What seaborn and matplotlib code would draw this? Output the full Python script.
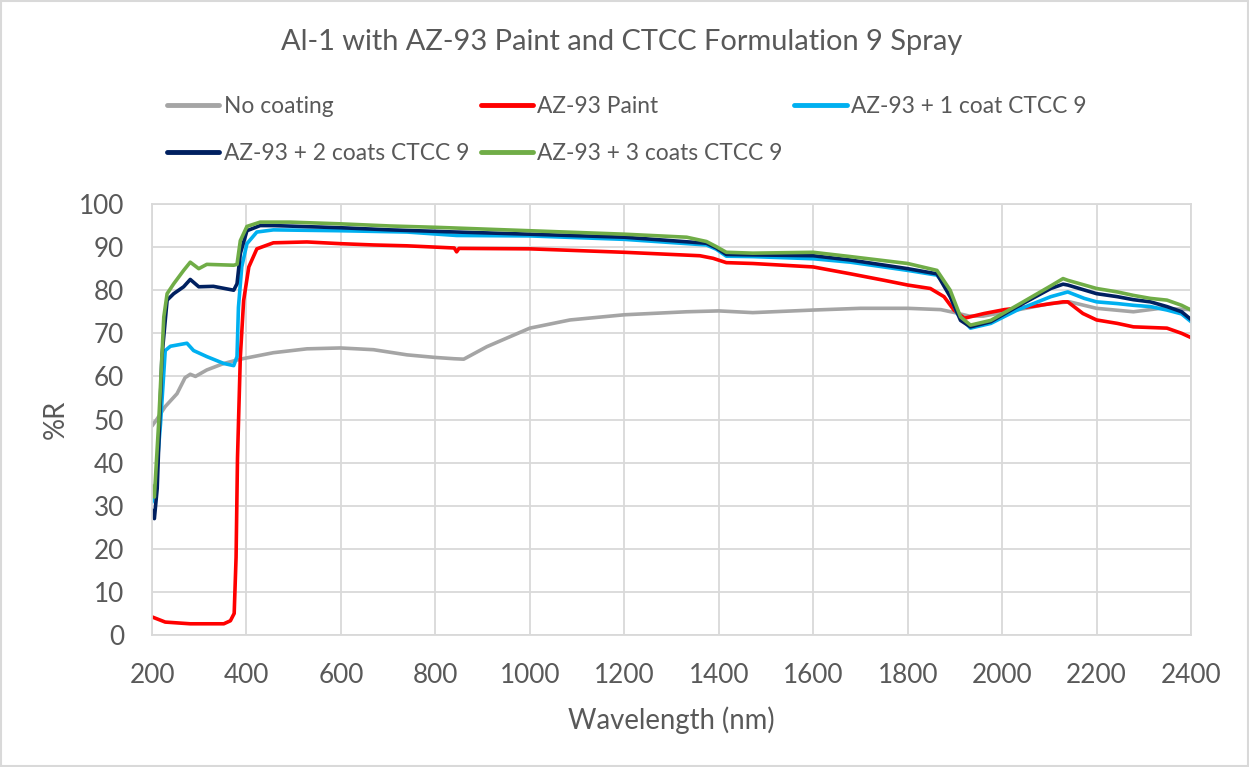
import matplotlib
matplotlib.use("Agg")
import matplotlib.pyplot as plt
from matplotlib.lines import Line2D
from matplotlib.patches import Rectangle
import seaborn as sns
import pandas as pd

sns.set_style("white")
plt.rcParams['font.family'] = ['Lato', 'DejaVu Sans']

TEXT = '#595959'
GRID = '#d9d9d9'

# --- data (wavelength nm, %R) ---
wl_none = [200, 210, 228, 253, 270, 281, 292, 316, 352, 387, 457, 528, 599, 669,
           740, 800, 840, 860, 909, 1000, 1085, 1200, 1332, 1400, 1472, 1600,
           1700, 1800, 1870, 1900, 1930, 1960, 2000, 2050, 2101, 2143, 2200,
           2278, 2335, 2400]
r_none = [48.5, 50, 53, 56, 59.7, 60.5, 60, 61.5, 63, 64, 65.5, 66.4, 66.6, 66.2,
          65, 64.4, 64.1, 64.0, 66.9, 71.2, 73.1, 74.3, 75, 75.2, 74.8, 75.4,
          75.8, 75.8, 75.5, 74.8, 74.0, 74.0, 74.8, 75.8, 76.9, 77.3, 75.8,
          75.0, 75.8, 75.5]

wl_paint = [200, 228, 281, 352, 366, 374, 378, 381, 387, 394, 405, 422, 457, 528,
            599, 669, 740, 800, 840, 845, 850, 1000, 1200, 1360, 1388, 1416, 1472,
            1600, 1679, 1750, 1800, 1848, 1877, 1898, 1920, 1962, 2005, 2068,
            2129, 2139, 2171, 2200, 2244, 2278, 2349, 2380, 2400]
r_paint = [4.2, 3.0, 2.6, 2.6, 3.3, 5, 18, 41, 64.5, 77.6, 85.4, 89.6, 91.0, 91.2,
           90.8, 90.5, 90.3, 90.0, 89.8, 88.9, 89.7, 89.6, 88.8, 88.0, 87.4, 86.4, 86.2,
           85.4, 83.8, 82.3, 81.2, 80.4, 78.5, 75.4, 73.5, 74.6, 75.5, 76.3,
           77.3, 77.3, 74.6, 73.1, 72.3, 71.5, 71.2, 70, 69]

wl_1coat = [200, 207, 218, 228, 239, 274, 288, 316, 352, 373, 380, 383, 390, 401,
            422, 457, 599, 740, 845, 1000, 1200, 1374, 1395, 1416, 1472, 1600,
            1679, 1800, 1862, 1883, 1905, 1933, 1976, 2032, 2103, 2139, 2174,
            2200, 2244, 2278, 2314, 2349, 2380, 2400]
r_1coat = [30.8, 34, 49, 66, 67, 67.7, 66, 64.6, 63, 62.5, 64.6, 76, 85.4, 90.8,
           93.5, 94, 93.8, 93.5, 92.7, 92.6, 91.8, 90.5, 89.5, 87.9, 87.8, 87.3,
           86.5, 84.6, 83.5, 80.8, 74.6, 71.2, 72.3, 75.4, 78.5, 79.6, 78.1,
           77.3, 76.9, 76.5, 76.2, 75.4, 74.5, 72.7]

wl_2coat = [200, 205, 211, 221, 232, 246, 267, 281, 299, 330, 373, 380, 387, 401,
            429, 457, 599, 705, 845, 1000, 1200, 1374, 1395, 1416, 1472, 1600,
            1679, 1800, 1862, 1890, 1912, 1933, 1976, 2032, 2103, 2129, 2139,
            2200, 2244, 2278, 2314, 2349, 2380, 2400]
r_2coat = [29, 27, 34, 64.6, 77.7, 79.2, 80.8, 82.5, 80.8, 80.9, 80, 81.5, 88.5, 93.8,
           95, 95, 94.5, 94.0, 93.5, 93.0, 92.3, 90.9, 89.8, 88.3, 88.2, 88,
           87, 85, 83.8, 78.5, 73, 71.5, 72.7, 76.2, 80.4, 81.4, 81.2,
           79.2, 78.5, 77.8, 77.3, 76.2, 75, 73.2]

wl_3coat = [200, 205, 214, 225, 232, 246, 267, 281, 299, 316, 373, 380, 387, 401,
            429, 493, 599, 705, 800, 1000, 1200, 1332, 1374, 1395, 1416, 1472,
            1600, 1679, 1800, 1862, 1890, 1912, 1933, 1976, 2032, 2103, 2129,
            2139, 2200, 2244, 2278, 2314, 2349, 2380, 2400]
r_3coat = [34.6, 32, 49, 73.8, 79.2, 81.5, 84.6, 86.5, 85, 86, 85.8, 86, 91.5, 94.8,
           95.8, 95.8, 95.4, 94.9, 94.6, 93.8, 93, 92.3, 91.3, 90.1, 88.8, 88.6,
           88.8, 87.8, 86.2, 84.6, 80, 73.8, 71.9, 73, 76.5, 81, 82.7,
           82.3, 80.4, 79.6, 78.8, 78.1, 77.7, 76.5, 75.4]

labels = ['No coating', 'AZ-93 Paint', 'AZ-93 + 1 coat CTCC 9',
          'AZ-93 + 2 coats CTCC 9', 'AZ-93 + 3 coats CTCC 9']
colors = ['#a5a5a5', '#ff0000', '#00b0f0', '#002060', '#70ad47']
series = [(wl_none, r_none), (wl_paint, r_paint), (wl_1coat, r_1coat),
          (wl_2coat, r_2coat), (wl_3coat, r_3coat)]

df = pd.concat([pd.DataFrame({'wl': w, 'R': r, 'series': lab})
                for (w, r), lab in zip(series, labels)], ignore_index=True)

fig = plt.figure(figsize=(12.49, 7.67), dpi=100)
ax = fig.add_axes([0.1217, 0.1721, 0.8319, 0.5619])

sns.lineplot(data=df, x='wl', y='R', hue='series', hue_order=labels,
             palette=dict(zip(labels, colors)), linewidth=2.6,
             estimator=None, sort=False, legend=False, ax=ax)

ax.set_xlim(200, 2400)
ax.set_ylim(0, 100)
ax.set_xticks(range(200, 2401, 200))
ax.set_yticks(range(0, 101, 10))
ax.grid(True, color=GRID, linewidth=1.3)
ax.set_axisbelow(True)
for s in ax.spines.values():
    s.set_color(GRID)
    s.set_linewidth(1.3)
ax.tick_params(length=0, labelsize=18.8, labelcolor=TEXT, pad=20)
ax.set_xlabel('Wavelength (nm)', fontsize=19.8, color=TEXT, labelpad=13.5)
ax.set_ylabel('%R', fontsize=19.8, color=TEXT, labelpad=7)

fig.suptitle('Al-1 with AZ-93 Paint and CTCC Formulation 9 Spray',
             x=0.498, y=0.945, va='center', fontsize=20.9, color=TEXT)

# legend in Excel row order (matplotlib fills column-first)
handles = [Line2D([], [], color=c, linewidth=3.5) for c in colors]
order = [0, 3, 1, 4, 2]
fig.legend([handles[i] for i in order], [labels[i] for i in order],
           ncol=3, frameon=False, loc='center left',
           bbox_to_anchor=(0.1208, 0.831), fontsize=16.4, labelcolor=TEXT,
           handlelength=2.3, handletextpad=0.2, columnspacing=0.5,
           labelspacing=1.15, borderpad=0.2)

fig.patches.append(Rectangle((0.001, 0.001), 0.998, 0.998, transform=fig.transFigure,
                             fill=False, edgecolor=GRID, linewidth=1.5))

fig.savefig('out.png', dpi=100)
